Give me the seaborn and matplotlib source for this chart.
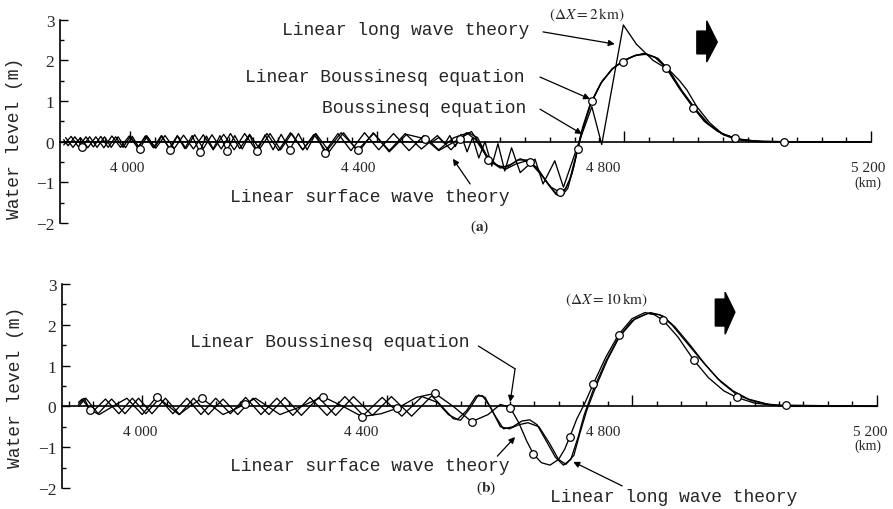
import numpy as np
import pandas as pd
import matplotlib
matplotlib.use("Agg")
import matplotlib.pyplot as plt
import seaborn as sns
from matplotlib.ticker import MultipleLocator
from matplotlib.patches import Polygon

# ---------------- data (distance in km, water level in m) ----------------
tick_km = [4000, 4400, 4800, 5200]
tick_labels = ["4 000", "4 400", "4 800", "5 200"]
ytick_vals = [-2, -1, 0, 1, 2, 3]
ytick_labels = ["\u22122", "\u22121", "0", "1", "2", "3"]

# panel (a)  dX = 2 km
a_lb_x = [3893, 3900, 3911, 3923, 3935, 3947, 3959, 3970, 3981, 3993, 4004, 4016, 4028, 4040, 4052, 4065, 4077, 4089, 4101, 4113,
          4124, 4135, 4146, 4157, 4170, 4182, 4194, 4206, 4219, 4232, 4245, 4259, 4273, 4287, 4301, 4316, 4342, 4369, 4395, 4420,
          4448, 4478, 4500, 4534, 4553, 4568, 4580, 4600, 4618, 4632, 4648, 4665, 4682, 4696, 4706, 4716, 4725, 4736, 4748, 4765,
          4782, 4798, 4815, 4831, 4850, 4868, 4890, 4912, 4930, 4952, 4979, 5010, 5059, 5200]
a_lb_y = [0.05, -0.10, 0.12, -0.12, 0.12, -0.14, 0.12, -0.14, 0.12, -0.15, 0.13, -0.17, 0.13, -0.15, 0.14, -0.20, 0.14, -0.17, 0.15, -0.25,
          0.14, -0.18, 0.15, -0.22, 0.15, -0.18, 0.16, -0.24, 0.17, -0.20, 0.18, -0.20, 0.20, -0.20, 0.20, -0.28, 0.22, -0.20, 0.20, -0.25,
          0.18, 0.07, -0.22, 0.07, 0.25, -0.10, -0.45, -0.65, -0.55, -0.42, -0.51, -0.80, -1.12, -1.24, -1.15, -0.78, -0.19, 0.45, 1.00, 1.50,
          1.80, 1.97, 2.10, 2.17, 2.08, 1.82, 1.30, 0.84, 0.50, 0.25, 0.08, 0.02, 0.00, 0.00]
a_lb_mark_x = [3923, 4016, 4065, 4113, 4157, 4206, 4259, 4316, 4369, 4478, 4534, 4580, 4648, 4696, 4725, 4748, 4798, 4868, 4912, 4979, 5059]
a_lb_mark_y = [-0.12, -0.17, -0.20, -0.25, -0.22, -0.24, -0.20, -0.28, -0.20, 0.07, 0.07, -0.45, -0.51, -1.24, -0.19, 1.00, 1.97, 1.82, 0.84, 0.08, 0.00]

a_bq_x = [3893, 3905, 3917, 3929, 3941, 3953, 3965, 3977, 3989, 4001, 4013, 4025, 4038, 4051, 4064, 4077, 4091, 4105, 4119, 4133,
          4148, 4163, 4178, 4194, 4210, 4227, 4244, 4262, 4280, 4298, 4317, 4337, 4358, 4380, 4403, 4427, 4452, 4476, 4500, 4525,
          4548, 4563, 4578, 4596, 4612, 4628, 4645, 4662, 4680, 4692, 4702, 4712, 4722, 4733, 4746, 4763, 4782, 4800, 4818, 4835,
          4852, 4870, 4892, 4915, 4935, 4958, 4985, 5020, 5200]
a_bq_y = [-0.08, 0.13, -0.13, 0.12, -0.13, 0.13, -0.14, 0.12, -0.14, 0.13, -0.15, 0.14, -0.15, 0.15, -0.16, 0.15, -0.17, 0.17, -0.17, 0.17,
          -0.18, 0.20, -0.17, 0.18, -0.18, 0.20, -0.20, 0.20, -0.20, 0.18, -0.22, 0.20, -0.22, 0.22, -0.20, 0.20, -0.22, 0.15, -0.20, 0.10,
          0.22, 0.10, -0.35, -0.60, -0.62, -0.45, -0.45, -0.70, -1.10, -1.30, -1.25, -0.95, -0.35, 0.35, 0.95, 1.45, 1.80, 2.00, 2.12, 2.16,
          2.06, 1.80, 1.28, 0.80, 0.45, 0.20, 0.06, 0.00, 0.00]

a_lsw_x = [3896, 3908, 3920, 3932, 3945, 3958, 3971, 3985, 3999, 4013, 4027, 4042, 4057, 4072, 4087, 4103, 4119, 4135, 4152, 4169,
           4186, 4204, 4222, 4241, 4260, 4280, 4301, 4323, 4346, 4370, 4394, 4420, 4446, 4472, 4498, 4520, 4545, 4560, 4575, 4592,
           4608, 4625, 4640, 4658, 4675, 4690, 4699, 4709, 4719, 4730, 4744, 4762, 4780, 4800, 4820, 4838, 4855, 4872, 4894, 4917,
           4938, 4960, 4990, 5025, 5200]
a_lsw_y = [0.10, -0.14, 0.10, -0.15, 0.12, -0.15, 0.14, -0.14, 0.14, -0.15, 0.15, -0.16, 0.15, -0.17, 0.16, -0.18, 0.17, -0.20, 0.18, -0.20,
           0.20, -0.20, 0.20, -0.22, 0.22, -0.20, 0.20, -0.24, 0.22, -0.26, 0.22, -0.22, 0.20, -0.18, 0.15, -0.20, 0.22, 0.05, -0.30, -0.55,
           -0.68, -0.55, -0.48, -0.62, -1.00, -1.30, -1.33, -1.15, -0.60, 0.15, 0.85, 1.42, 1.78, 2.00, 2.13, 2.15, 2.05, 1.78, 1.25, 0.78,
           0.42, 0.18, 0.05, 0.00, 0.00]

a_llw_x = [3893, 4490, 4500, 4510, 4518, 4527, 4536, 4546, 4555, 4565, 4575, 4586, 4596, 4607, 4618, 4632, 4656, 4669, 4688, 4702,
           4723, 4748, 4764, 4799, 4820, 4847, 4874, 4890, 4902, 4918, 4939, 4961, 4982, 5010, 5200]
a_llw_y = [0.00, 0.00, 0.10, -0.05, 0.15, -0.12, 0.18, -0.25, 0.10, -0.40, 0.00, -0.60, -0.05, -0.72, -0.15, -0.76, -0.43, -1.04, -0.47, -1.12,
           -0.19, 0.86, -0.07, 2.87, 2.40, 2.00, 1.75, 1.50, 1.27, 0.86, 0.46, 0.17, 0.05, 0.00, 0.00]

# panel (b)  dX = 10 km
b_lb_x = [3896, 3905, 3915, 3930, 3952, 3975, 4000, 4024, 4042, 4060, 4078, 4097, 4115, 4132, 4150, 4168, 4185, 4205, 4225, 4260,
          4295, 4328, 4359, 4390, 4416, 4448, 4478, 4508, 4538, 4565, 4585, 4601, 4615, 4628, 4639, 4652, 4666, 4680, 4690, 4698,
          4710, 4722, 4737, 4757, 4778, 4800, 4821, 4836, 4851, 4875, 4901, 4925, 4950, 4971, 5000, 5030, 5052, 5200]
b_lb_y = [0.05, 0.20, -0.09, -0.20, 0.00, 0.20, -0.20, 0.24, 0.02, -0.20, 0.00, 0.20, 0.00, -0.20, -0.08, 0.06, 0.20, 0.00, -0.20, 0.00,
          0.24, 0.00, -0.25, -0.18, -0.05, 0.22, 0.32, 0.00, -0.375, -0.20, 0.05, -0.03, -0.40, -0.85, -1.17, -1.38, -1.44, -1.30, -1.05, -0.76,
          -0.30, 0.05, 0.56, 1.20, 1.76, 2.15, 2.30, 2.25, 2.11, 1.70, 1.13, 0.70, 0.38, 0.22, 0.08, 0.03, 0.03, 0.00]
b_lb_mark_x = [3915, 4024, 4097, 4168, 4295, 4359, 4416, 4478, 4538, 4601, 4639, 4698, 4737, 4778, 4851, 4901, 4971, 5052]
b_lb_mark_y = [-0.09, 0.24, 0.20, 0.06, 0.24, -0.25, -0.05, 0.32, -0.375, -0.03, -1.17, -0.76, 0.56, 1.76, 2.11, 1.13, 0.22, 0.03]

b_llw_x = [3896, 3908, 3928, 3950, 3972, 3994, 4016, 4038, 4061, 4084, 4108, 4132, 4156, 4181, 4207, 4233, 4260, 4288, 4316, 4345,
           4376, 4407, 4440, 4473, 4508, 4520, 4535, 4549, 4560, 4575, 4590, 4605, 4620, 4633, 4645, 4660, 4675, 4688, 4700, 4712,
           4722, 4737, 4757, 4778, 4800, 4825, 4845, 4865, 4890, 4915, 4940, 4965, 4990, 5020, 5050, 5200]
b_llw_y = [0.00, 0.20, -0.18, 0.18, -0.18, 0.20, -0.18, 0.20, -0.20, 0.20, -0.20, 0.18, -0.20, 0.20, -0.20, 0.22, -0.22, 0.22, -0.22, 0.24,
           -0.22, 0.24, -0.24, 0.26, -0.30, -0.34, -0.05, 0.28, 0.22, -0.20, -0.55, -0.50, -0.36, -0.33, -0.45, -0.85, -1.25, -1.44, -1.30, -0.75,
           -0.20, 0.42, 1.10, 1.70, 2.10, 2.28, 2.25, 2.00, 1.55, 1.10, 0.68, 0.38, 0.18, 0.06, 0.01, 0.00]

b_lsw_x = [3896, 3902, 3918, 3940, 3962, 3984, 4006, 4028, 4050, 4073, 4096, 4120, 4144, 4169, 4194, 4220, 4246, 4274, 4302, 4331,
           4361, 4392, 4424, 4457, 4482, 4500, 4515, 4530, 4545, 4556, 4570, 4585, 4600, 4615, 4630, 4648, 4665, 4680, 4692, 4705,
           4715, 4726, 4740, 4760, 4780, 4805, 4830, 4850, 4870, 4895, 4920, 4945, 4970, 4995, 5025, 5055, 5200]
b_lsw_y = [0.10, 0.18, -0.15, 0.18, -0.18, 0.20, -0.18, 0.20, -0.18, 0.20, -0.20, 0.20, -0.18, 0.22, -0.20, 0.20, -0.22, 0.22, -0.22, 0.24,
           -0.22, 0.22, -0.24, 0.24, 0.10, -0.20, -0.32, -0.10, 0.25, 0.26, -0.05, -0.50, -0.55, -0.45, -0.40, -0.50, -0.90, -1.30, -1.42, -1.20,
           -0.65, -0.10, 0.45, 1.15, 1.72, 2.15, 2.30, 2.22, 1.95, 1.50, 1.02, 0.60, 0.30, 0.14, 0.04, 0.00, 0.00]

# ---------------- style ----------------
sns.set_style("ticks")
plt.rcParams["font.family"] = ["Liberation Serif", "DejaVu Serif"]
plt.rcParams["mathtext.fontset"] = "stix"
MONO = ["Liberation Mono", "DejaVu Sans Mono"]
LBL = 13

fig = plt.figure(figsize=(8.93, 5.10), dpi=100)
axA = fig.add_axes([0.0672, 0.5608, 0.9103, 0.3986])
axB = fig.add_axes([0.0694, 0.0412, 0.9147, 0.4000])


def draw_curve(ax, x, y):
    df = pd.DataFrame({"x": x, "y": y})
    sns.lineplot(data=df, x="x", y="y", ax=ax, color="black", linewidth=0.95,
                 sort=False, estimator=None, zorder=3)


def draw_marks(ax, x, y):
    sns.scatterplot(x=x, y=y, ax=ax, marker="o", s=30, color="white",
                    edgecolor="black", linewidth=0.9, zorder=5)


def style(ax, xmin, label_pos, label_y, ylab_y):
    ax.set_xlim(xmin, 5203)
    ax.set_ylim(-2, 3)
    ax.set_xlabel("")
    ax.set_ylabel("Water level (m)", family=MONO, fontsize=LBL)
    ax.yaxis.set_label_coords(-0.046, ylab_y)
    for s in ["top", "right"]:
        ax.spines[s].set_visible(False)
    ax.spines["bottom"].set_position(("data", 0))
    ax.spines["bottom"].set_bounds(xmin, 5200)
    ax.spines["left"].set_bounds(-2, 3)
    for s in ["bottom", "left"]:
        ax.spines[s].set_linewidth(1.2)
        ax.spines[s].set_color("black")
    ax.set_xticks(tick_km)
    ax.set_xticklabels([])
    ax.xaxis.set_minor_locator(MultipleLocator(40))
    ax.tick_params(axis="x", which="major", direction="in", length=8, width=1, color="black")
    ax.tick_params(axis="x", which="minor", direction="in", length=3.5, width=1, color="black")
    for pos, lab in zip(label_pos, tick_labels):
        ax.text(pos, label_y, lab, fontsize=11, ha="center", va="center", clip_on=False)
    ax.set_yticks(ytick_vals)
    ax.set_yticklabels(ytick_labels)
    ax.yaxis.set_minor_locator(MultipleLocator(0.5))
    ax.tick_params(axis="y", which="major", direction="in", length=6, width=1,
                   pad=4, labelsize=12.5, color="black")
    ax.tick_params(axis="y", which="minor", direction="in", length=3, width=1, color="black")
    ax.patch.set_alpha(0)


AP = dict(arrowstyle="-|>", color="black", lw=0.9, mutation_scale=9, shrinkA=0, shrinkB=0)
LP = dict(arrowstyle="-", color="black", lw=0.9, shrinkA=0, shrinkB=0)

# ---------------- panel (a) ----------------
draw_curve(axA, a_lsw_x, a_lsw_y)
draw_curve(axA, a_bq_x, a_bq_y)
draw_curve(axA, a_lb_x, a_lb_y)
draw_curve(axA, a_llw_x, a_llw_y)
draw_marks(axA, a_lb_mark_x, a_lb_mark_y)
style(axA, 3887, [3995, 4369, 4766, 5195], -0.63, 0.423)

axA.text(4246, 2.77, "Linear long wave theory", family=MONO, fontsize=LBL, ha="left", va="center")
axA.annotate("", xy=(4785, 2.40), xytext=(4669, 2.70), arrowprops=AP)
axA.text(4186, 1.61, "Linear Boussinesq equation", family=MONO, fontsize=LBL, ha="left", va="center")
axA.annotate("", xy=(4745, 1.05), xytext=(4664, 1.59), arrowprops=AP)
axA.text(4311, 0.83, "Boussinesq equation", family=MONO, fontsize=LBL, ha="left", va="center")
axA.annotate("", xy=(4732, 0.19), xytext=(4664, 0.80), arrowprops=AP)
axA.text(4162, -1.36, "Linear surface wave theory", family=MONO, fontsize=LBL, ha="left", va="center")
axA.annotate("", xy=(4523, -0.42), xytext=(4551, -1.04), arrowprops=AP)
axA.text(4740, 3.14, r"$(\mathit{\Delta X}=2\,\mathrm{km})$", fontsize=11, ha="center", va="center", clip_on=False)
axA.text(4567, -2.08, r"($\mathbf{a}$)", fontsize=11, ha="center", va="center", clip_on=False)
axA.text(5195, -0.99, "(km)", fontsize=10, ha="center", va="center", clip_on=False)
axA.add_patch(Polygon([(4918, 2.72), (4934, 2.72), (4934, 2.97), (4951, 2.45), (4934, 1.96), (4934, 2.16), (4918, 2.16)],
                      closed=True, facecolor="black", edgecolor="black", clip_on=False, zorder=4))

# ---------------- panel (b) ----------------
draw_curve(axB, b_lsw_x, b_lsw_y)
draw_curve(axB, b_llw_x, b_llw_y)
draw_curve(axB, b_lb_x, b_lb_y)
draw_marks(axB, b_lb_mark_x, b_lb_mark_y)
style(axB, 3869, [3997, 4358, 4753, 5189], -0.62, 0.5)

axB.text(4078, 1.60, "Linear Boussinesq equation", family=MONO, fontsize=LBL, ha="left", va="center")
axB.annotate("", xy=(4609, 0.92), xytext=(4549, 1.48), arrowprops=LP)
axB.annotate("", xy=(4601, 0.11), xytext=(4609, 0.92), arrowprops=AP)
axB.text(4144, -1.46, "Linear surface wave theory", family=MONO, fontsize=LBL, ha="left", va="center")
axB.annotate("", xy=(4609, -0.75), xytext=(4580, -1.22), arrowprops=AP)
axB.text(4666, -2.22, "Linear long wave theory", family=MONO, fontsize=LBL, ha="left", va="center", clip_on=False)
axB.annotate("", xy=(4704, -1.36), xytext=(4784, -1.95), arrowprops=AP)
axB.text(4759, 2.63, r"$(\mathit{\Delta X}=10\,\mathrm{km})$", fontsize=11, ha="center", va="center", clip_on=False)
axB.text(4562, -1.98, r"($\mathbf{b}$)", fontsize=11, ha="center", va="center", clip_on=False)
axB.text(5185, -0.95, "(km)", fontsize=10, ha="center", va="center", clip_on=False)
axB.add_patch(Polygon([(4936, 2.63), (4952, 2.63), (4952, 2.80), (4968, 2.31), (4952, 1.77), (4952, 1.97), (4936, 1.97)],
                      closed=True, facecolor="black", edgecolor="black", clip_on=False, zorder=4))

fig.savefig("out.png", dpi=100, facecolor="white")
